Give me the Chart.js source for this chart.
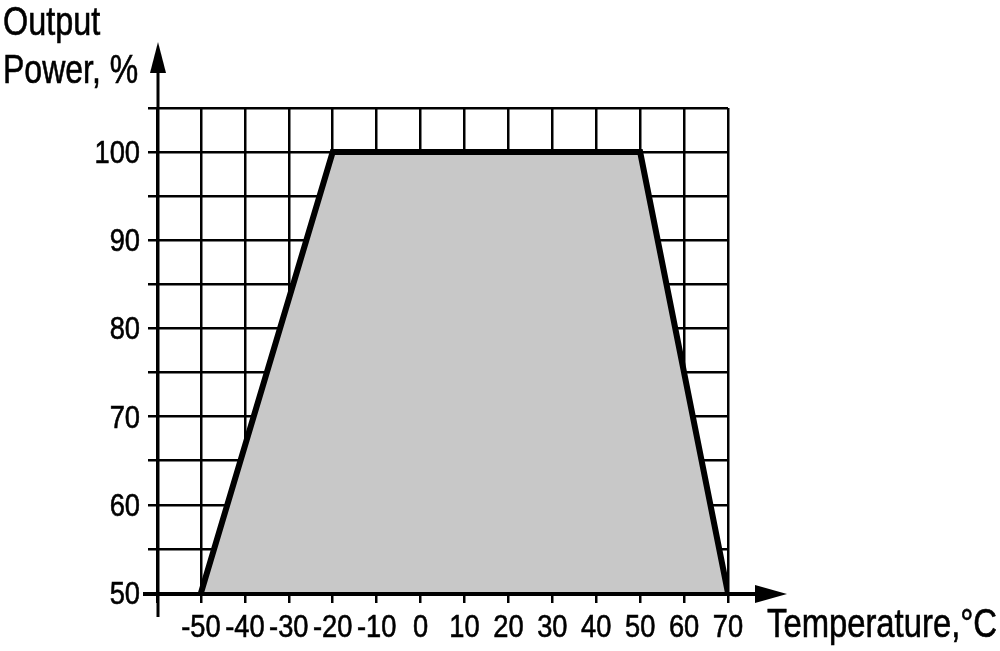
<!DOCTYPE html>
<html>
<head>
<meta charset="utf-8">
<script src="https://cdn.jsdelivr.net/npm/chart.js@4.4.0/dist/chart.umd.min.js"></script>
<style>
    html, body { margin: 0; padding: 0; background: #fff; }
    #wrap { width: 1000px; height: 651px; position: relative; }
</style>
</head>
<body>
<div id="wrap"><canvas id="powerChart"></canvas></div>
<script>
// derating curve: output power vs ambient temperature
const temperatures = [-50, -20, 50, 70];
const outputPower = [50, 100, 100, 50];
const xTickLabels = [-50, -40, -30, -20, -10, 0, 10, 20, 30, 40, 50, 60, 70];
const yTickLabels = [50, 60, 70, 80, 90, 100];

// no narrow font installed, so Liberation Sans is squeezed horizontally
const FONT = "'Liberation Sans', Arial, sans-serif";

const points = temperatures.map(function (t, i) {
    return { x: t, y: outputPower[i] };
});

function narrowText(c, text, x, y, squeeze, align) {
    c.save();
    c.translate(x, y);
    c.scale(squeeze, 1);
    c.textAlign = align;
    c.fillText(text, 0, 0);
    c.lineWidth = 0.6;
    c.strokeText(text, 0, 0);
    c.restore();
}

// axis lines with arrow heads, tick labels and axis titles
const axesPlugin = {
    id: 'axesArrows',
    afterDraw: function (chart) {
        const c = chart.ctx;
        const area = chart.chartArea;
        const xs = chart.scales.x;
        const ys = chart.scales.y;
        const x0 = xs.getPixelForValue(xs.min) + 1;
        const y0 = ys.getPixelForValue(ys.min) + 1;

        c.save();
        c.fillStyle = '#000';
        c.strokeStyle = '#000';

        // y axis
        c.lineWidth = 3;
        c.beginPath();
        c.moveTo(x0, y0 + 23);
        c.lineTo(x0, area.top - 40);
        c.stroke();
        c.beginPath();
        c.moveTo(x0, area.top - 66);
        c.lineTo(x0 - 8, area.top - 35);
        c.lineTo(x0 + 8, area.top - 35);
        c.closePath();
        c.fill();

        // x axis
        c.lineWidth = 4;
        c.beginPath();
        c.moveTo(x0 - 15, y0);
        c.lineTo(area.right + 30, y0);
        c.stroke();
        c.beginPath();
        c.moveTo(area.right + 59, y0);
        c.lineTo(area.right + 27, y0 - 9);
        c.lineTo(area.right + 27, y0 + 9);
        c.closePath();
        c.fill();

        // tick labels
        c.font = '31px ' + FONT;
        c.textBaseline = 'alphabetic';
        xTickLabels.forEach(function (v) {
            narrowText(c, String(v), xs.getPixelForValue(v), area.bottom + 44, 0.88, 'center');
        });
        yTickLabels.forEach(function (v) {
            narrowText(c, String(v), area.left - 17, ys.getPixelForValue(v) + 11, 0.88, 'right');
        });

        // titles
        c.font = '40px ' + FONT;
        narrowText(c, 'Output', 3, 35, 0.81, 'left');
        narrowText(c, 'Power, %', 3, 83, 0.8, 'left');
        narrowText(c, 'Temperature,°C', 767, 637, 0.82, 'left');
        c.restore();
    }
};

new Chart(document.getElementById('powerChart'), {
    type: 'scatter',
    data: {
        datasets: [{
            data: points,
            showLine: true,
            borderColor: '#000',
            borderWidth: 6,
            backgroundColor: '#c8c8c8',
            fill: 'start',
            pointRadius: 0,
            tension: 0
        }]
    },
    options: {
        responsive: true,
        maintainAspectRatio: false,
        animation: false,
        layout: {
            padding: { left: 0, right: 272, top: 108, bottom: 0 }
        },
        plugins: {
            legend: { display: false },
            tooltip: { enabled: false }
        },
        scales: {
            x: {
                type: 'linear',
                min: -60,
                max: 70,
                z: 1,
                afterFit: function (scale) { scale.height = 58; },
                border: { display: false },
                grid: { color: '#000', lineWidth: 2.5, tickLength: 10, tickColor: '#000' },
                ticks: { stepSize: 10, autoSkip: false, display: false }
            },
            y: {
                min: 50,
                max: 105,
                z: 1,
                afterFit: function (scale) { scale.width = 157; },
                border: { display: false },
                grid: { color: '#000', lineWidth: 2.5, tickLength: 9, tickColor: '#000' },
                ticks: { stepSize: 5, autoSkip: false, display: false }
            }
        }
    },
    plugins: [axesPlugin]
});
</script>
</body>
</html>
